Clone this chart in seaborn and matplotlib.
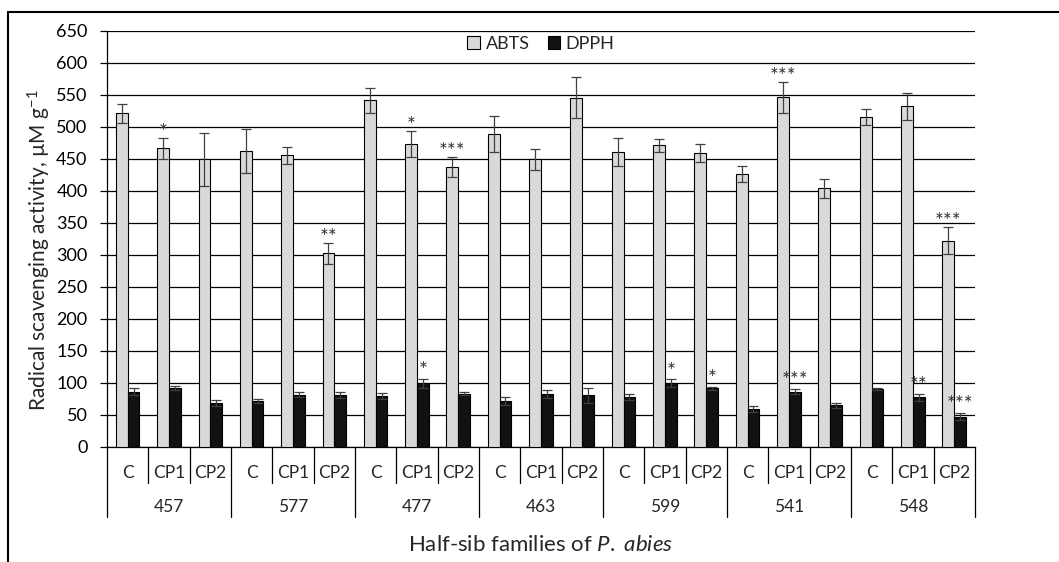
# Radical scavenging activity (ABTS / DPPH) of P. abies half-sib families

import pandas as pd
import matplotlib.pyplot as plt
from matplotlib.lines import Line2D
import seaborn as sns

families = ['457', '577', '477', '463', '599', '541', '548']
treatments = ['C', 'CP1', 'CP2']

abts = [521, 466, 449, 462, 455, 302, 541, 473, 437, 489, 449, 545,
        460, 471, 459, 426, 546, 404, 515, 532, 322]
abts_err = [15, 16, 41, 34, 13, 16, 20, 20, 15, 28, 16, 32,
            22, 10, 14, 13, 24, 15, 12, 21, 21]
dpph = [86, 92, 68, 72, 81, 81, 79, 99, 83, 71, 82, 80,
        78, 99, 91, 59, 86, 65, 90, 77, 47]
dpph_err = [6, 3, 5, 3, 4, 5, 5, 7, 3, 6, 6, 12,
            5, 6, 3, 5, 4, 4, 2, 5, 5]
abts_sig = ['', '*', '', '', '', '**', '', '*', '***', '', '', '',
            '', '', '', '', '***', '', '', '', '***']
dpph_sig = ['', '', '', '', '', '', '', '*', '', '', '', '',
            '', '*', '*', '', '***', '', '', '**', '***']

sns.set_style('white')
plt.rcParams['font.family'] = ['Lato', 'DejaVu Sans']
plt.rcParams['mathtext.fontset'] = 'custom'
plt.rcParams['mathtext.rm'] = 'Lato'
plt.rcParams['mathtext.it'] = 'Lato:italic'

labels = [f'{f}_{t}' for f in families for t in treatments]
df = pd.DataFrame({
    'sample': labels * 2,
    'assay': ['ABTS'] * len(labels) + ['DPPH'] * len(labels),
    'value': abts + dpph,
})

fig = plt.figure(figsize=(10.59, 5.62), dpi=100)
ax = fig.add_axes([0.101, 0.2052, 0.8196, 0.7402])

sns.barplot(data=df, x='sample', y='value', hue='assay', order=labels,
            hue_order=['ABTS', 'DPPH'],
            palette={'ABTS': '#d9d9d9', 'DPPH': '#111111'},
            width=0.57, errorbar=None, edgecolor='black', linewidth=0.8,
            ax=ax, zorder=3)

# barras de erro e asteriscos
for cont, errs, sigs, off in zip(ax.containers, [abts_err, dpph_err],
                                 [abts_sig, dpph_sig], [-1, 3]):
    xs = [b.get_x() + b.get_width() / 2 for b in cont]
    hs = [b.get_height() for b in cont]
    ax.errorbar(xs, hs, yerr=errs, fmt='none', ecolor='#404040',
                elinewidth=0.9, capsize=3.5, capthick=0.9, zorder=4)
    for x, h, e, s in zip(xs, hs, errs, sigs):
        if s:
            ax.text(x, h + e + off, s, ha='center', va='baseline',
                    fontsize=15, color='#333333', zorder=5)

ax.set_xlim(-0.5, len(labels) - 0.5)
ax.set_ylim(0, 650)
ax.set_yticks(range(0, 651, 50))
ax.set_axisbelow(True)
ax.yaxis.grid(True, color='black', linewidth=0.9)
ax.set_xlabel('')
ax.set_ylabel('')
ax.tick_params(axis='x', bottom=False, labelbottom=False)
ax.tick_params(axis='y', left=True, length=5, width=0.9, direction='out',
               pad=9, labelsize=13, colors='black')
for side in ['top', 'right']:
    ax.spines[side].set_visible(False)
for side in ['left', 'bottom']:
    ax.spines[side].set_color('black')
    ax.spines[side].set_linewidth(0.9)

# eixo x com duas linhas de categorias
trans = ax.get_xaxis_transform()
for i in range(len(labels) + 1):
    depth = 0.168 if i % 3 == 0 else 0.0865
    ax.plot([i - 0.5, i - 0.5], [0, -depth], transform=trans,
            color='black', lw=0.9, clip_on=False)
for i in range(len(labels)):
    ax.text(i, -0.0625, treatments[i % 3], transform=trans,
            ha='center', va='center', fontsize=12.5)
for j, fam in enumerate(families):
    ax.text(3 * j + 1, -0.144, fam, transform=trans,
            ha='center', va='center', fontsize=12.5)

leg = ax.legend(loc='center', bbox_to_anchor=(0.5, 0.968), ncol=2,
                frameon=False, fontsize=13, handlelength=0.7,
                handleheight=0.7, handletextpad=0.3, columnspacing=1.0)
for h in leg.legend_handles:
    h.set_edgecolor('black')
    h.set_linewidth(0.8)

fig.text(0.037, 0.555, r'Radical scavenging activity, µM g$^{\mathregular{-1}}$',
         rotation=90, ha='center', va='center', fontsize=15)
fig.text(0.51, 0.030, r'Half-sib families of $\mathit{P.\ abies}$',
         ha='center', va='center', fontsize=16)

# moldura
y_top = 1 - 11.7 / 562
x_left = 8 / 1059
fig.add_artist(Line2D([x_left, 1], [y_top, y_top], color='black', lw=1.5))
fig.add_artist(Line2D([x_left, x_left], [0, y_top], color='black', lw=1.5))

fig.savefig('out.png', dpi=100)
